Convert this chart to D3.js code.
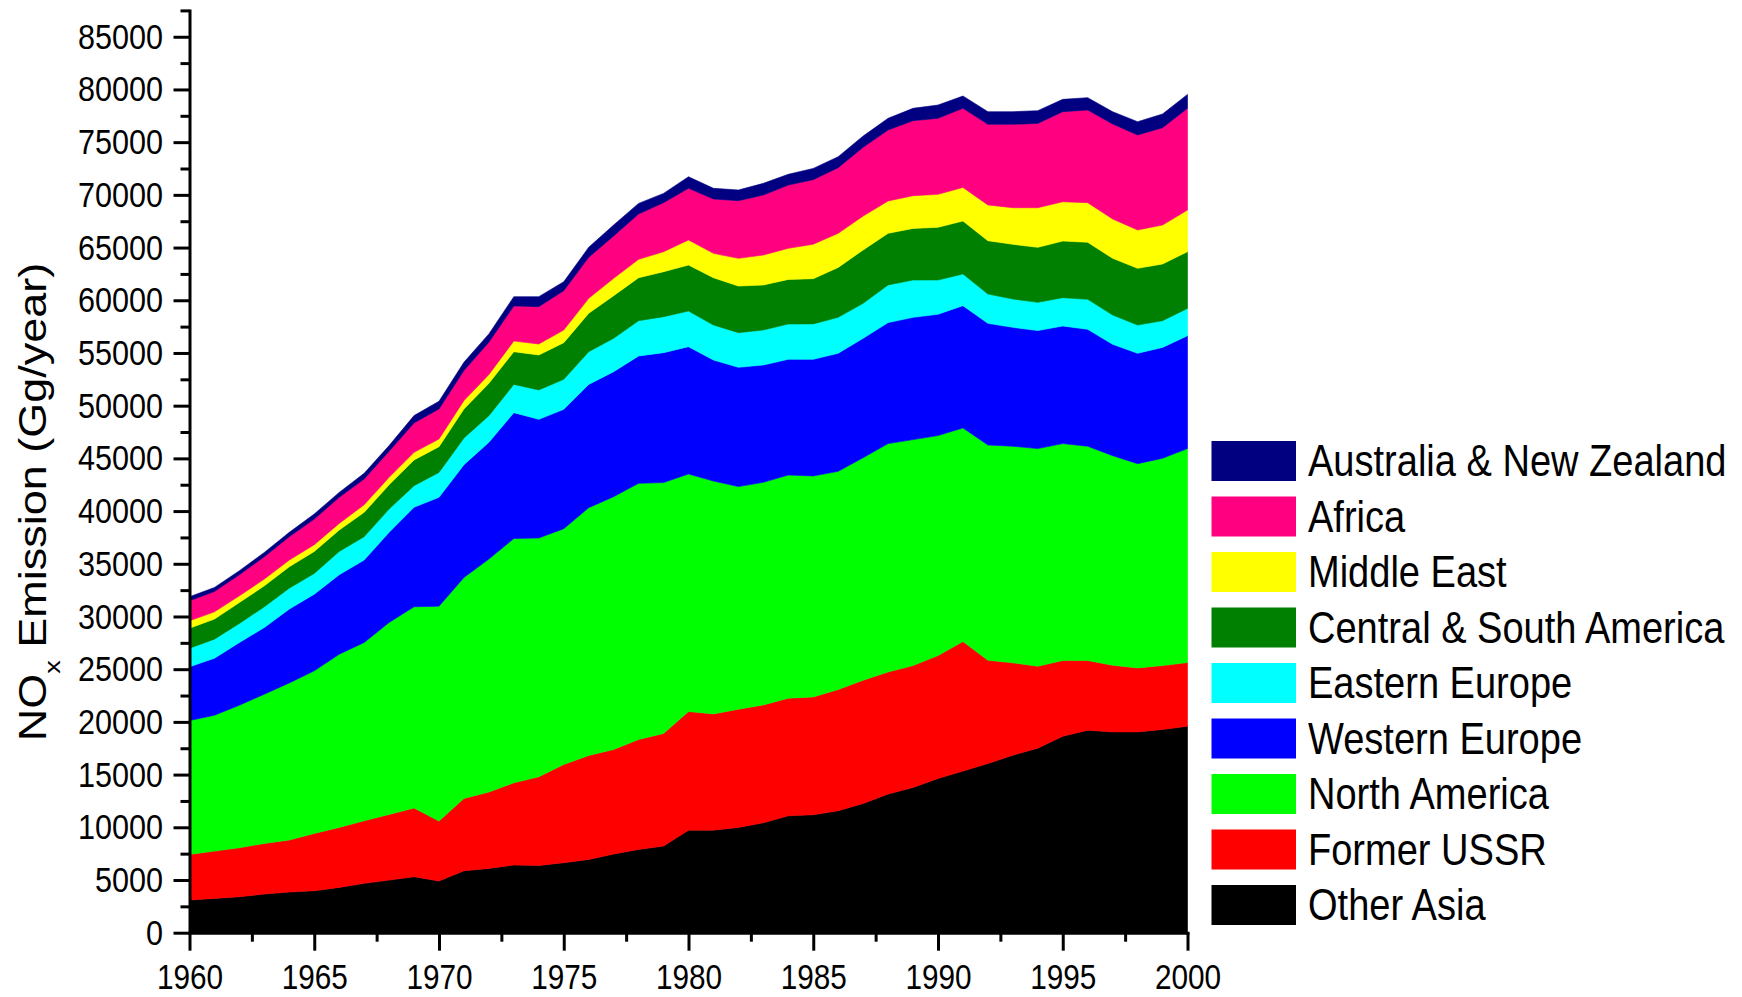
<!DOCTYPE html>
<html>
<head>
<meta charset="utf-8">
<script src="https://cdn.jsdelivr.net/npm/d3@7/dist/d3.min.js"></script>
<style>
  body { margin: 0; background: #fff; }
  svg { display: block; }
  text { font-family: "Liberation Sans", Arial, sans-serif; fill: #000; }
</style>
</head>
<body>
<div class="fondo"></div>
<script>
var years = [1960, 1961, 1962, 1963, 1964, 1965, 1966, 1967, 1968, 1969,
  1970, 1971, 1972, 1973, 1974, 1975, 1976, 1977, 1978, 1979,
  1980, 1981, 1982, 1983, 1984, 1985, 1986, 1987, 1988, 1989,
  1990, 1991, 1992, 1993, 1994, 1995, 1996, 1997, 1998, 1999, 2000];

var otherAsia = [3100, 3250, 3410, 3670, 3860, 3980, 4300, 4680, 4990, 5310,
  4900, 5880, 6100, 6420, 6380, 6640, 6950, 7460, 7900, 8220,
  9730, 9730, 9990, 10430, 11090, 11190, 11570, 12260, 13150, 13780,
  14630, 15330, 16050, 16840, 17510, 18640, 19210, 19050, 19050, 19280, 19590];

var formerUSSR = [4330, 4490, 4650, 4800, 4930, 5440, 5690, 5940, 6230, 6510,
  5690, 6860, 7240, 7800, 8410, 9320, 9860, 9920, 10430, 10680,
  11250, 11030, 11210, 11180, 11160, 11180, 11500, 11690, 11590, 11560,
  11660, 12290, 9800, 8760, 7770, 7180, 6610, 6320, 6070, 6060, 6040];

var northAmerica = [12700, 12890, 13520, 14160, 14910, 15420, 16430, 16910, 18210, 19100,
  20390, 20960, 22110, 23180, 22660, 22370, 23510, 23990, 24300, 23800,
  22540, 22090, 21120, 21120, 21170, 20960, 20700, 21120, 21660, 21440,
  20870, 20270, 20420, 20550, 20650, 20580, 20330, 19890, 19380, 19670, 20300];

var westernEurope = [5090, 5410, 5950, 6330, 7000, 7280, 7540, 7820, 8550, 9450,
  10320, 10700, 11070, 11940, 11250, 11320, 11700, 11860, 12080, 12330,
  12080, 11480, 11320, 11130, 10980, 11070, 11200, 11320, 11480, 11600,
  11510, 11600, 11540, 11280, 11190, 11160, 11090, 10560, 10470, 10520, 10710];

var easternEurope = [1770, 1810, 1810, 1960, 1990, 1960, 2210, 2220, 2210, 2040,
  2370, 2530, 2530, 2680, 2790, 2850, 3100, 3160, 3350, 3410,
  3380, 3320, 3290, 3320, 3350, 3360, 3410, 3320, 3570, 3540,
  3250, 3000, 2780, 2690, 2680, 2690, 2850, 2780, 2680, 2530, 2590];

var centralSouthAmerica = [1900, 1900, 1990, 1990, 2030, 2090, 2030, 2310, 2310, 2440,
  2440, 2760, 3070, 3100, 3320, 3480, 3640, 4050, 4080, 4270,
  4360, 4490, 4420, 4270, 4230, 4290, 4740, 5060, 4900, 4900,
  5000, 5030, 5060, 5190, 5220, 5370, 5410, 5380, 5380, 5380, 5380];

var middleEast = [700, 690, 630, 640, 630, 640, 630, 720, 700, 720,
  730, 790, 830, 1020, 1040, 1200, 1420, 1640, 1740, 1900,
  2380, 2310, 2630, 2840, 2950, 3270, 3230, 3220, 3070, 3100,
  3130, 3190, 3390, 3470, 3760, 3730, 3760, 3730, 3640, 3700, 3950];

var africa = [1900, 1930, 2000, 2120, 2220, 2430, 2470, 2440, 2470, 2790,
  2850, 2850, 3070, 3320, 3540, 3730, 3890, 4020, 4300, 4650,
  4900, 5160, 5470, 5690, 6000, 6120, 6230, 6520, 6730, 7120,
  7210, 7500, 7650, 7910, 8000, 8540, 8790, 9010, 9010, 9230, 9650];

var australiaNZ = [380, 380, 380, 410, 410, 480, 470, 540, 540, 700,
  730, 790, 790, 880, 950, 850, 950, 1040, 1010, 880,
  1100, 1010, 1010, 1110, 1020, 1070, 1040, 1070, 1110, 1170,
  1260, 1170, 1200, 1200, 1210, 1170, 1170, 1170, 1260, 1300, 1320];

// orden de apilado: de abajo hacia arriba
var seriesNames = ['Other Asia', 'Former USSR', 'North America', 'Western Europe',
  'Eastern Europe', 'Central & South America', 'Middle East', 'Africa',
  'Australia & New Zealand'];
var seriesValues = [otherAsia, formerUSSR, northAmerica, westernEurope,
  easternEurope, centralSouthAmerica, middleEast, africa, australiaNZ];
var seriesColors = ['#000000', '#ff0000', '#00ff00', '#0000ff',
  '#00ffff', '#008000', '#ffff00', '#ff0080', '#000080'];

var xTicks = [1960, 1965, 1970, 1975, 1980, 1985, 1990, 1995, 2000];
var yTicks = [0, 5000, 10000, 15000, 20000, 25000, 30000, 35000, 40000,
  45000, 50000, 55000, 60000, 65000, 70000, 75000, 80000, 85000];

var squeeze = 0.85;

var tabla = years.map(function (y, i) {
  var fila = { year: y };
  seriesNames.forEach(function (n, k) {
    fila[n] = seriesValues[k][i];
  });
  return fila;
});

var contenedor = d3
  .select('.fondo')
  .append('svg')
  .attr('width', 1742)
  .attr('height', 997);

const xScale = d3.scaleLinear()
  .domain([1960, 2000])
  .range([189.5, 1187.5]);

const yScale = d3.scaleLinear()
  .domain([0, 87500])
  .range([932.7, 10.4]);

var capas = d3.stack().keys(seriesNames)(tabla);

var area = d3.area()
  .x(d => xScale(d.data.year))
  .y0(d => yScale(d[0]))
  .y1(d => yScale(d[1]));

contenedor
  .append('g')
  .selectAll('path')
  .data(capas)
  .enter()
  .append('path')
  .attr('d', area)
  .attr('fill', (d, i) => seriesColors[i])
  .attr('stroke', (d, i) => seriesColors[i])
  .attr('stroke-width', 0.6);

// ejes: minor ticks primero, luego los principales
var yMinor = d3.range(2500, 87501, 5000);
var xMinor = d3.range(1962.5, 2000, 5);

contenedor
  .append('g')
  .attr('transform', 'translate(189.5, 0)')
  .call(d3.axisLeft(yScale).tickValues(yMinor).tickSize(9).tickFormat(''))
  .call(g => g.select('.domain').remove());

contenedor
  .append('g')
  .attr('transform', 'translate(0, 932.7)')
  .call(d3.axisBottom(xScale).tickValues(xMinor).tickSize(9).tickFormat(''))
  .call(g => g.select('.domain').remove());

var yAxis = contenedor
  .append('g')
  .attr('id', 'y-axis')
  .attr('transform', 'translate(189.5, 0)')
  .call(d3.axisLeft(yScale).tickValues(yTicks).tickSize(16).tickSizeOuter(0)
    .tickFormat(d3.format('d')));

yAxis.selectAll('text')
  .attr('x', -26.5 / squeeze)
  .attr('transform', 'scale(' + squeeze + ',1)')
  .style('font-size', '36px');

var xAxis = contenedor
  .append('g')
  .attr('id', 'x-axis')
  .attr('transform', 'translate(0, 932.7)')
  .call(d3.axisBottom(xScale).tickValues(xTicks).tickSize(18).tickSizeOuter(0)
    .tickFormat(d3.format('d')));

xAxis.selectAll('text')
  .attr('y', 31.5)
  .attr('transform', 'scale(' + squeeze + ',1)')
  .style('font-size', '35px');

contenedor.selectAll('.tick line')
  .attr('stroke', '#000')
  .attr('stroke-width', 3);

contenedor.selectAll('.domain')
  .attr('stroke', '#000')
  .attr('stroke-width', 3)
  .attr('stroke-linecap', 'square');

// titulo del eje Y con subindice
var titulo = contenedor
  .append('text')
  .attr('transform', 'translate(46, 502) scale(' + squeeze + ',1) rotate(-90)')
  .attr('text-anchor', 'middle')
  .style('font-size', '45px');

titulo.append('tspan').text('NO');
titulo.append('tspan').attr('dy', 17).style('font-size', '27px').text('x');
titulo.append('tspan').attr('dy', -17).text(' Emission (Gg/year)');

// leyenda, de arriba hacia abajo
var leyendaOrden = seriesNames.slice().reverse();
var leyendaColores = seriesColors.slice().reverse();

var leyenda = contenedor
  .append('g')
  .attr('id', 'legend')
  .selectAll('g')
  .data(leyendaOrden)
  .enter()
  .append('g')
  .attr('transform', (d, i) => 'translate(1211.5,' + (441 + i * 55.5) + ')');

leyenda
  .append('rect')
  .attr('width', 84.5)
  .attr('height', 40)
  .attr('fill', (d, i) => leyendaColores[i]);

leyenda
  .append('text')
  .attr('transform', 'translate(96.5, 35) scale(0.855,1)')
  .style('font-size', '44.5px')
  .text(d => d);
</script>
</body>
</html>
